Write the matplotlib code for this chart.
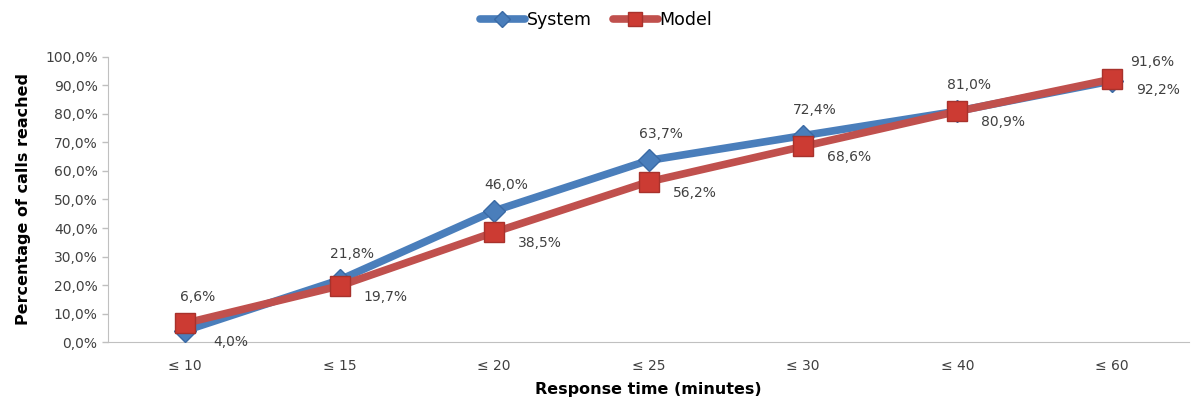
import matplotlib
matplotlib.use('Agg')
import matplotlib.pyplot as plt
from matplotlib.ticker import FuncFormatter

categories = ['≤ 10', '≤ 15', '≤ 20', '≤ 25', '≤ 30', '≤ 40', '≤ 60']
system = [4.0, 21.8, 46.0, 63.7, 72.4, 81.0, 91.6]
model = [6.6, 19.7, 38.5, 56.2, 68.6, 80.9, 92.2]
# labels as printed in the chart (upper label / side label)
upper_labels = [6.6, 21.8, 46.0, 63.7, 72.4, 81.0, 91.6]
side_labels = [4.0, 19.7, 38.5, 56.2, 68.6, 80.9, 92.2]


def pct(v):
    return ('%.1f%%' % v).replace('.', ',')


fig = plt.figure(figsize=(11.92, 4.01), dpi=100)
ax = fig.add_axes([0.0906, 0.147, 0.907, 0.711])
x = list(range(len(categories)))

blue = '#4a7ebb'
red = '#c0504d'
ax.plot(x, system, color=blue, lw=5.5, marker='D', ms=11, mfc=blue, mec='#3a6aa5',
        label='System', zorder=3, solid_capstyle='round')
ax.plot(x, model, color=red, lw=5.5, marker='s', ms=14, mfc='#cc3b33', mec='#a8322c',
        label='Model', zorder=4, solid_capstyle='round')

txt = dict(fontsize=10, color='#404040', ha='center', va='center')
for i in x:
    top_y = max(system[i], model[i])
    dx, dy = (12, 26) if i < len(x) - 1 else (40, 17)
    ax.annotate(pct(upper_labels[i]), (i, top_y), xytext=(dx, dy),
                textcoords='offset pixels', **txt)
    ax.annotate(pct(side_labels[i]), (i, side_labels[i]), xytext=(46, -11),
                textcoords='offset pixels', **txt)

ax.set_xlim(-0.5, len(categories) - 0.5)
ax.set_ylim(0, 100)
ax.set_yticks(range(0, 101, 10))
ax.yaxis.set_major_formatter(FuncFormatter(lambda v, p: pct(v)))
ax.set_xticks(x)
ax.set_xticklabels(categories)
ax.tick_params(axis='x', length=0, pad=12, labelsize=10, colors='#404040')
ax.tick_params(axis='y', length=4, width=1, color='#bfbfbf', labelsize=10,
               labelcolor='#404040')
for s in ['top', 'right']:
    ax.spines[s].set_visible(False)
for s in ['left', 'bottom']:
    ax.spines[s].set_color('#c0c0c0')

ax.set_xlabel('Response time (minutes)', fontsize=11.5, fontweight='bold', labelpad=7)
ax.set_ylabel('Percentage of calls reached', fontsize=11.5, fontweight='bold', labelpad=10)

fig.legend(loc='center', bbox_to_anchor=(0.5, 1 - 20 / 401), ncol=2, frameon=False,
           fontsize=12.5, handlelength=2.6, columnspacing=1.2, handletextpad=0.1,
           markerscale=0.75)

fig.savefig('out.png', dpi=100)
